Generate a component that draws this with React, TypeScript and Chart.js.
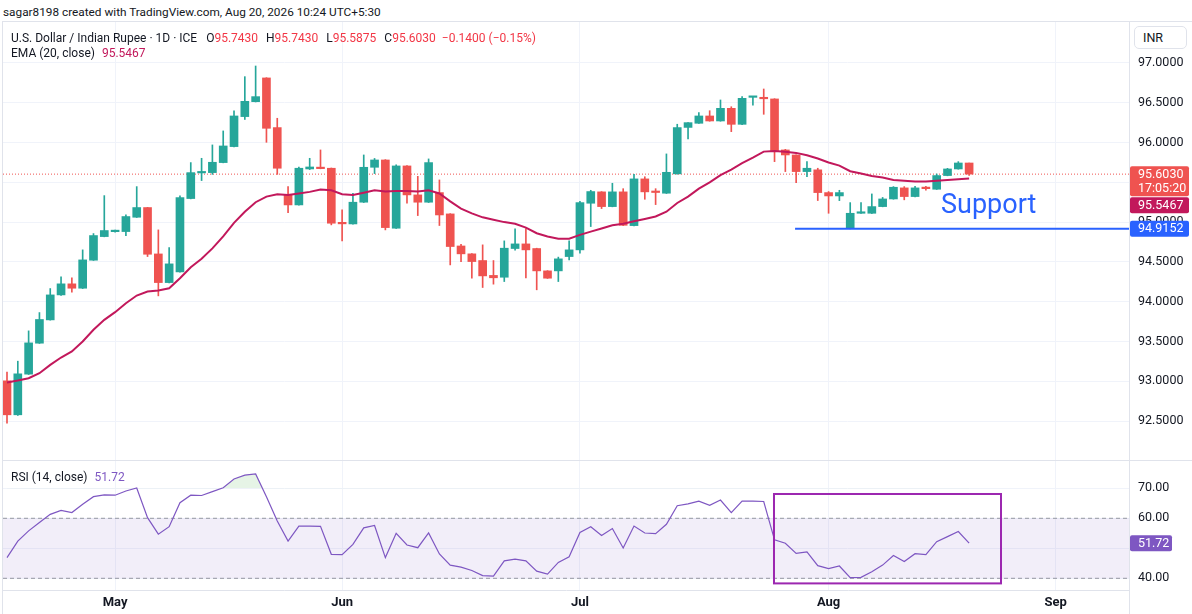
import React, { useEffect, useRef } from "react";
import { Chart, registerables } from "chart.js";

Chart.register(...registerables);

// ---------------- data ----------------
const OPEN: number[] = [
  93.005, 92.578, 93.089, 93.478, 93.771, 94.085, 94.224, 94.169, 94.521, 94.818,
  94.880, 94.881, 95.061, 95.183, 94.600, 94.240, 94.374, 95.296, 95.618, 95.622,
  95.748, 95.949, 96.326, 96.514, 96.812, 96.188, 95.342, 95.216, 95.668, 95.677,
  95.677, 94.986, 94.977, 95.250, 95.689, 95.781, 94.923, 95.706, 95.342, 95.250,
  95.371, 95.103, 94.700, 94.601, 94.517, 94.330, 94.307, 94.668, 94.726, 94.668,
  94.387, 94.387, 94.567, 94.651, 95.237, 95.380, 95.195, 95.380, 94.956, 95.543,
  95.380, 95.363, 95.606, 96.190, 96.242, 96.334, 96.271, 96.430, 96.229, 96.568,
  96.560, 96.548, 95.907, 95.844, 95.635, 95.657, 95.371, 95.329, 94.923, 95.111,
  95.111, 95.195, 95.291, 95.430, 95.321, 95.440, 95.413, 95.585, 95.668, 95.743,
];
const HIGH: number[] = [
  93.114, 93.252, 93.633, 93.863, 94.165, 94.312, 94.300, 94.651, 94.856, 95.333,
  94.900, 95.090, 95.446, 95.185, 94.902, 94.680, 95.330, 95.748, 95.802, 95.970,
  96.146, 96.397, 96.828, 96.962, 96.815, 96.305, 95.446, 95.690, 95.802, 95.907,
  95.680, 95.153, 95.363, 95.844, 95.800, 95.785, 95.720, 95.710, 95.575, 95.794,
  95.530, 95.106, 94.720, 94.604, 94.714, 94.517, 94.764, 94.915, 94.920, 94.672,
  94.390, 94.560, 94.764, 95.260, 95.400, 95.383, 95.488, 95.420, 95.601, 95.570,
  95.420, 95.857, 96.230, 96.250, 96.376, 96.400, 96.535, 96.450, 96.577, 96.580,
  96.673, 96.551, 95.915, 95.847, 95.760, 95.677, 95.384, 95.400, 95.245, 95.245,
  95.354, 95.310, 95.446, 95.446, 95.450, 95.450, 95.605, 95.676, 95.760, 95.743,
];
const LOW: number[] = [
  92.473, 92.570, 93.085, 93.475, 93.768, 94.080, 94.119, 94.165, 94.518, 94.815,
  94.875, 94.830, 95.058, 94.567, 94.073, 94.236, 94.370, 95.292, 95.522, 95.600,
  95.745, 95.945, 96.290, 96.510, 96.003, 95.600, 95.120, 95.212, 95.660, 95.670,
  94.965, 94.764, 94.974, 95.246, 95.610, 94.902, 94.920, 95.237, 95.082, 95.246,
  94.957, 94.462, 94.504, 94.295, 94.178, 94.220, 94.253, 94.647, 94.300, 94.149,
  94.292, 94.253, 94.525, 94.610, 94.944, 95.170, 95.192, 94.956, 94.953, 95.287,
  95.220, 95.360, 95.603, 96.045, 96.240, 96.268, 96.268, 96.137, 96.226, 96.470,
  96.355, 95.760, 95.635, 95.497, 95.572, 95.271, 95.111, 95.270, 94.915, 95.108,
  95.108, 95.192, 95.288, 95.280, 95.318, 95.400, 95.410, 95.582, 95.665, 95.5875,
];
const CLOSE: number[] = [
  92.578, 93.093, 93.482, 93.776, 94.085, 94.224, 94.169, 94.525, 94.831, 94.894,
  94.890, 95.070, 95.183, 94.596, 94.240, 94.475, 95.308, 95.622, 95.625, 95.752,
  95.957, 96.334, 96.518, 96.577, 96.179, 95.677, 95.216, 95.677, 95.693, 95.672,
  94.986, 94.978, 95.250, 95.689, 95.781, 94.931, 95.706, 95.342, 95.250, 95.748,
  95.090, 94.693, 94.601, 94.504, 94.324, 94.300, 94.672, 94.726, 94.651, 94.387,
  94.295, 94.538, 94.651, 95.245, 95.384, 95.195, 95.380, 94.960, 95.543, 95.380,
  95.372, 95.626, 96.188, 96.250, 96.334, 96.271, 96.430, 96.229, 96.556, 96.577,
  96.550, 95.899, 95.844, 95.635, 95.677, 95.371, 95.329, 95.371, 95.111, 95.120,
  95.195, 95.291, 95.438, 95.321, 95.430, 95.420, 95.585, 95.668, 95.743, 95.603,
];
const EMA20: number[] = [
  92.984, 93.009, 93.038, 93.101, 93.206, 93.298, 93.374, 93.499, 93.646, 93.771,
  93.868, 93.981, 94.077, 94.127, 94.140, 94.169, 94.295, 94.433, 94.540, 94.670,
  94.820, 94.990, 95.130, 95.250, 95.320, 95.350, 95.340, 95.360, 95.380, 95.410,
  95.400, 95.350, 95.340, 95.370, 95.400, 95.384, 95.390, 95.390, 95.385, 95.400,
  95.360, 95.260, 95.170, 95.110, 95.060, 95.030, 95.000, 94.980, 94.930, 94.860,
  94.820, 94.790, 94.790, 94.840, 94.880, 94.920, 94.960, 94.980, 95.010, 95.040,
  95.070, 95.130, 95.240, 95.320, 95.420, 95.500, 95.590, 95.660, 95.740, 95.810,
  95.886, 95.895, 95.885, 95.870, 95.840, 95.800, 95.750, 95.710, 95.640, 95.610,
  95.580, 95.560, 95.530, 95.520, 95.510, 95.510, 95.520, 95.530, 95.540, 95.5467,
];
const RSI14: number[] = [
  46.9, 52.4, 55.8, 58.6, 61.3, 62.6, 61.9, 64.7, 67.2, 67.8,
  67.7, 69.1, 70.1, 60.2, 54.7, 57.2, 65.2, 67.7, 67.6, 68.9,
  70.2, 73.1, 74.4, 74.8, 67.2, 59.1, 52.4, 57.4, 57.4, 57.3,
  48.0, 47.9, 51.3, 56.8, 57.6, 46.9, 55.0, 51.1, 50.2, 55.1,
  48.1, 44.4, 43.7, 42.6, 40.9, 40.7, 45.8, 46.4, 45.8, 42.4,
  41.4, 45.3, 47.2, 55.3, 57.2, 54.3, 56.6, 50.1, 57.4, 55.1,
  54.9, 58.0, 64.2, 64.8, 65.7, 64.3, 66.1, 61.9, 65.7, 65.7,
  65.6, 52.8, 51.7, 48.3, 48.8, 44.2, 43.2, 44.1, 40.2, 40.3,
  42.2, 44.4, 47.6, 45.6, 48.2, 47.9, 52.2, 53.9, 55.6, 51.72,
];

const PRICE_TICKS: number[] = [92.5, 93, 93.5, 94, 94.5, 95, 95.5, 96, 96.5, 97];
const RSI_TICKS: number[] = [40, 50, 60, 70];
const RSI_BAND: number[] = [40, 60];
const MONTH_LABELS: string[] = ["May", "Jun", "Jul", "Aug", "Sep"];
const MONTH_INDEX: number[] = [10, 31, 53, 76, 97];

const SUPPORT_LEVEL = 94.9152;
const SUPPORT_START_INDEX = 72.9;
const SUPPORT_LABEL = "Support";
const SUPPORT_LABEL_POS = { x: 86.4, y: 95.112 };
const RSI_RECT = { x0: 70.95, x1: 91.95, top: 68.1, bottom: 38.3 };
const COUNTDOWN = "17:05:20";

const HEADER_TEXT = "sagar8198 created with TradingView.com, Aug 20, 2026 10:24 UTC+5:30";
const SYMBOL_TEXT = "U.S. Dollar / Indian Rupee · 1D · ICE";
const EMA_TEXT = "EMA (20, close)";
const RSI_TEXT = "RSI (14, close)";
const CURRENCY = "INR";

// view window (bar index units)
const X_MIN = -0.37;
const X_MAX = 103.79;
const PRICE_MIN = 92.01;
const PRICE_MAX = 97.515;
const RSI_MIN = 36.1;
const RSI_MAX = 79.43;

// ---------------- styles ----------------
const FONT = 'Roboto, "Noto Sans", sans-serif';
const TEXT = "#131722";
const UP = "#26a69a";
const DOWN = "#ef5350";
const EMA_COLOR = "#c2185b";
const RSI_COLOR = "#7e57c2";
const BLUE = "#2962ff";
const GRID = "#f0f3fa";
const BORDER = "#e0e3eb";
const AXIS_W = 63;

const N = CLOSE.length;
const IDX = CLOSE.map((_, i) => i);
const LAST_CLOSE = CLOSE[N - 1];
const LAST_EMA = EMA20[N - 1];
const LAST_RSI = RSI14[N - 1];
const colorOf = (i: number) => (CLOSE[i] >= OPEN[i] ? UP : DOWN);

function fillBox(ctx: CanvasRenderingContext2D, x: number, y: number, w: number, h: number, color: string) {
  ctx.fillStyle = color;
  ctx.beginPath();
  if ((ctx as any).roundRect) (ctx as any).roundRect(x, y, w, h, 2);
  else ctx.rect(x, y, w, h);
  ctx.fill();
}

const priceOverlay = {
  id: "priceOverlay",
  afterDatasetsDraw(chart: any) {
    const { ctx, scales } = chart;
    ctx.save();
    ctx.font = `27px ${FONT}`;
    ctx.fillStyle = BLUE;
    ctx.textAlign = "left";
    ctx.textBaseline = "alphabetic";
    ctx.fillText(
      SUPPORT_LABEL,
      scales.x.getPixelForValue(SUPPORT_LABEL_POS.x),
      scales.y.getPixelForValue(SUPPORT_LABEL_POS.y)
    );
    ctx.restore();
  },
  afterDraw(chart: any) {
    const { ctx, chartArea, scales } = chart;
    const ys = scales.y;
    const bx = chartArea.right + 1;
    const bw = 59;
    const tx = chartArea.right + 9;
    ctx.save();
    ctx.font = `12.5px ${FONT}`;
    ctx.textAlign = "left";
    ctx.textBaseline = "middle";
    // support
    const yS = ys.getPixelForValue(SUPPORT_LEVEL);
    fillBox(ctx, bx, yS - 8, bw, 16, BLUE);
    ctx.fillStyle = "#fff";
    ctx.fillText(SUPPORT_LEVEL.toFixed(4), tx, yS + 0.5);
    // last close
    const yC = ys.getPixelForValue(LAST_CLOSE);
    fillBox(ctx, bx, yC - 8, bw, 30, DOWN);
    ctx.fillStyle = "#fff";
    ctx.fillText(LAST_CLOSE.toFixed(4), tx, yC + 0.5);
    ctx.fillText(COUNTDOWN, tx, yC + 14.5);
    // EMA
    const yE = Math.max(ys.getPixelForValue(LAST_EMA) - 8, yC + 23);
    fillBox(ctx, bx, yE, bw, 16, EMA_COLOR);
    ctx.fillStyle = "#fff";
    ctx.fillText(LAST_EMA.toFixed(4), tx, yE + 8.5);
    ctx.restore();
  },
};

const rsiOverlay = {
  id: "rsiOverlay",
  afterDatasetsDraw(chart: any) {
    const { ctx, scales } = chart;
    const x0 = scales.x.getPixelForValue(RSI_RECT.x0);
    const x1 = scales.x.getPixelForValue(RSI_RECT.x1);
    const y0 = scales.y.getPixelForValue(RSI_RECT.top);
    const y1 = scales.y.getPixelForValue(RSI_RECT.bottom);
    ctx.save();
    ctx.strokeStyle = "#9c27b0";
    ctx.lineWidth = 2;
    ctx.strokeRect(x0, y0, x1 - x0, y1 - y0);
    ctx.restore();
  },
  afterDraw(chart: any) {
    const { ctx, chartArea, scales } = chart;
    const y = scales.y.getPixelForValue(LAST_RSI);
    ctx.save();
    fillBox(ctx, chartArea.right + 1, y - 8, 42, 16, RSI_COLOR);
    ctx.font = `12.5px ${FONT}`;
    ctx.fillStyle = "#fff";
    ctx.textAlign = "left";
    ctx.textBaseline = "middle";
    ctx.fillText(LAST_RSI.toFixed(2), chartArea.right + 9, y + 0.5);
    ctx.restore();
  },
};

const monthTicks = (s: any) => {
  s.ticks = MONTH_INDEX.map((v) => ({ value: v }));
};
const noPad = (s: any) => {
  s.paddingTop = 0;
  s.paddingBottom = 0;
  s.paddingLeft = 0;
  s.paddingRight = 0;
};

function priceConfig(): any {
  return {
    type: "bar",
    data: {
      datasets: [
        {
          type: "line",
          data: [
            { x: X_MIN, y: LAST_CLOSE },
            { x: X_MAX, y: LAST_CLOSE },
          ],
          borderColor: DOWN,
          borderWidth: 1,
          borderDash: [1, 2],
          pointRadius: 0,
          order: 6,
        },
        {
          type: "bar",
          data: IDX.map((i) => ({ x: i, y: [LOW[i], HIGH[i]] })),
          backgroundColor: IDX.map(colorOf),
          borderWidth: 0,
          barThickness: 1,
          grouped: false,
          minBarLength: 1,
          order: 5,
        },
        {
          type: "bar",
          data: IDX.map((i) => ({ x: i, y: [OPEN[i], CLOSE[i]] })),
          backgroundColor: IDX.map(colorOf),
          borderWidth: 0,
          barThickness: 8,
          grouped: false,
          minBarLength: 1.5,
          order: 4,
        },
        {
          type: "line",
          data: IDX.map((i) => ({ x: i, y: EMA20[i] })),
          borderColor: EMA_COLOR,
          borderWidth: 2,
          pointRadius: 0,
          tension: 0,
          order: 3,
        },
        {
          type: "line",
          data: [
            { x: SUPPORT_START_INDEX, y: SUPPORT_LEVEL },
            { x: X_MAX, y: SUPPORT_LEVEL },
          ],
          borderColor: BLUE,
          borderWidth: 2,
          pointRadius: 0,
          order: 2,
        },
      ],
    },
    options: {
      animation: false,
      responsive: false,
      maintainAspectRatio: false,
      events: [],
      layout: { autoPadding: false, padding: { left: 3, right: 0, top: 0, bottom: 0 } },
      plugins: { legend: { display: false }, tooltip: { enabled: false } },
      scales: {
        x: {
          type: "linear",
          min: X_MIN,
          max: X_MAX,
          offset: false,
          afterBuildTicks: monthTicks,
          ticks: { display: false },
          grid: { color: GRID, drawTicks: false, offset: false },
          border: { display: false },
          afterFit: (s: any) => {
            s.height = 0;
            noPad(s);
          },
        },
        y: {
          type: "linear",
          position: "right",
          min: PRICE_MIN,
          max: PRICE_MAX,
          afterBuildTicks: (s: any) => {
            s.ticks = PRICE_TICKS.map((v) => ({ value: v }));
          },
          ticks: {
            autoSkip: false,
            callback: (v: any) => Number(v).toFixed(4),
            color: TEXT,
            font: { size: 12.5, family: FONT },
            padding: 9,
          },
          grid: { color: GRID, drawTicks: false },
          border: { display: true, color: BORDER },
          afterFit: (s: any) => {
            s.width = AXIS_W;
            noPad(s);
          },
        },
      },
    },
    plugins: [priceOverlay],
  };
}

function rsiConfig(): any {
  const bandLine = (v: number, fill: any) => ({
    data: [
      { x: X_MIN, y: v },
      { x: X_MAX, y: v },
    ],
    borderColor: "#9598a1",
    borderWidth: 1,
    borderDash: [4, 3],
    pointRadius: 0,
    fill,
    backgroundColor: "rgba(126,87,194,0.1)",
    order: 3,
  });
  return {
    type: "line",
    data: {
      datasets: [
        bandLine(RSI_BAND[1], "+1"),
        bandLine(RSI_BAND[0], false),
        {
          data: IDX.map((i) => ({ x: i, y: RSI14[i] })),
          borderColor: RSI_COLOR,
          borderWidth: 1.2,
          pointRadius: 0,
          tension: 0,
          fill: { target: { value: 70 }, above: "rgba(76,175,80,0.14)", below: "rgba(0,0,0,0)" },
          order: 1,
        },
      ],
    },
    options: {
      animation: false,
      responsive: false,
      maintainAspectRatio: false,
      events: [],
      layout: { autoPadding: false, padding: { left: 3, right: 0, top: 0, bottom: 0 } },
      plugins: { legend: { display: false }, tooltip: { enabled: false } },
      scales: {
        x: {
          type: "linear",
          min: X_MIN,
          max: X_MAX,
          offset: false,
          afterBuildTicks: monthTicks,
          ticks: {
            autoSkip: false,
            maxRotation: 0,
            padding: 5,
            color: TEXT,
            font: { size: 13, family: FONT, weight: "bold" },
            callback: (v: any) => {
              const k = MONTH_INDEX.indexOf(Number(v));
              return k >= 0 ? MONTH_LABELS[k] : "";
            },
          },
          grid: { color: GRID, drawTicks: false },
          border: { display: true, color: BORDER },
          afterFit: (s: any) => {
            s.height = 24;
            noPad(s);
          },
        },
        y: {
          type: "linear",
          position: "right",
          min: RSI_MIN,
          max: RSI_MAX,
          afterBuildTicks: (s: any) => {
            s.ticks = RSI_TICKS.map((v) => ({ value: v }));
          },
          ticks: {
            autoSkip: false,
            callback: (v: any) => Number(v).toFixed(2),
            color: TEXT,
            font: { size: 12.5, family: FONT },
            padding: 9,
          },
          grid: { color: GRID, drawTicks: false },
          border: { display: true, color: BORDER },
          afterFit: (s: any) => {
            s.width = AXIS_W;
            noPad(s);
          },
        },
      },
    },
    plugins: [rsiOverlay],
  };
}

export default function App() {
  const priceRef = useRef<HTMLCanvasElement>(null);
  const rsiRef = useRef<HTMLCanvasElement>(null);

  useEffect(() => {
    const pc = new Chart(priceRef.current as HTMLCanvasElement, priceConfig());
    const rc = new Chart(rsiRef.current as HTMLCanvasElement, rsiConfig());
    return () => {
      pc.destroy();
      rc.destroy();
    };
  }, []);

  const prevClose = CLOSE[N - 2];
  const chg = LAST_CLOSE - prevClose;
  const pct = (chg / prevClose) * 100;
  const fmt = (v: number, d: number) => (v < 0 ? "\u2212" : "+") + Math.abs(v).toFixed(d);
  const red = "#f23645";

  const abs = (o: any): React.CSSProperties => ({ position: "absolute", ...o });
  const line = (o: any) => <div style={abs({ background: BORDER, ...o })} />;
  const txt = { fontSize: 12, lineHeight: "18px", whiteSpace: "nowrap" };

  return (
    <div
      style={{
        position: "fixed",
        left: 0,
        top: 0,
        width: 1192,
        height: 614,
        background: "#fff",
        overflow: "hidden",
        fontFamily: FONT,
        color: TEXT,
      }}
    >
      <canvas ref={priceRef} width={1192} height={438} style={abs({ left: 0, top: 22, width: 1192, height: 438 })} />
      <canvas ref={rsiRef} width={1192} height={154} style={abs({ left: 0, top: 460, width: 1192, height: 154 })} />

      {line({ left: 2, top: 21, width: 1190, height: 1 })}
      {line({ left: 2, top: 21, width: 1, height: 593 })}
      {line({ left: 1129, top: 21, width: 1, height: 593 })}
      {line({ left: 2, top: 460, width: 1190, height: 1 })}

      <div style={abs({ left: 3, top: 3, ...txt, fontSize: 11.8 })}>{HEADER_TEXT}</div>

      <div style={abs({ left: 11, top: 29, ...txt })}>
        {SYMBOL_TEXT}
        <span style={{ marginLeft: 9 }}>O</span>
        <span style={{ color: red }}>{OPEN[N - 1].toFixed(4)}</span>
        <span style={{ marginLeft: 8 }}>H</span>
        <span style={{ color: red }}>{HIGH[N - 1].toFixed(4)}</span>
        <span style={{ marginLeft: 8 }}>L</span>
        <span style={{ color: red }}>{LOW[N - 1].toFixed(4)}</span>
        <span style={{ marginLeft: 8 }}>C</span>
        <span style={{ color: red }}>{LAST_CLOSE.toFixed(4)}</span>
        <span style={{ color: red, marginLeft: 6 }}>
          {fmt(chg, 4)} ({fmt(pct, 2)}%)
        </span>
      </div>

      <div style={abs({ left: 11, top: 44, ...txt })}>
        {EMA_TEXT}
        <span style={{ color: EMA_COLOR, marginLeft: 7 }}>{LAST_EMA.toFixed(4)}</span>
      </div>

      <div style={abs({ left: 11, top: 468, ...txt })}>
        {RSI_TEXT}
        <span style={{ color: RSI_COLOR, marginLeft: 7 }}>{LAST_RSI.toFixed(2)}</span>
      </div>

      <div
        style={abs({
          left: 1134,
          top: 26,
          width: 53,
          height: 23,
          border: `1px solid ${BORDER}`,
          borderRadius: 5,
          fontSize: 12.5,
          lineHeight: "21px",
          paddingLeft: 8,
          boxSizing: "border-box",
          background: "#fff",
        })}
      >
        {CURRENCY}
      </div>
    </div>
  );
}
